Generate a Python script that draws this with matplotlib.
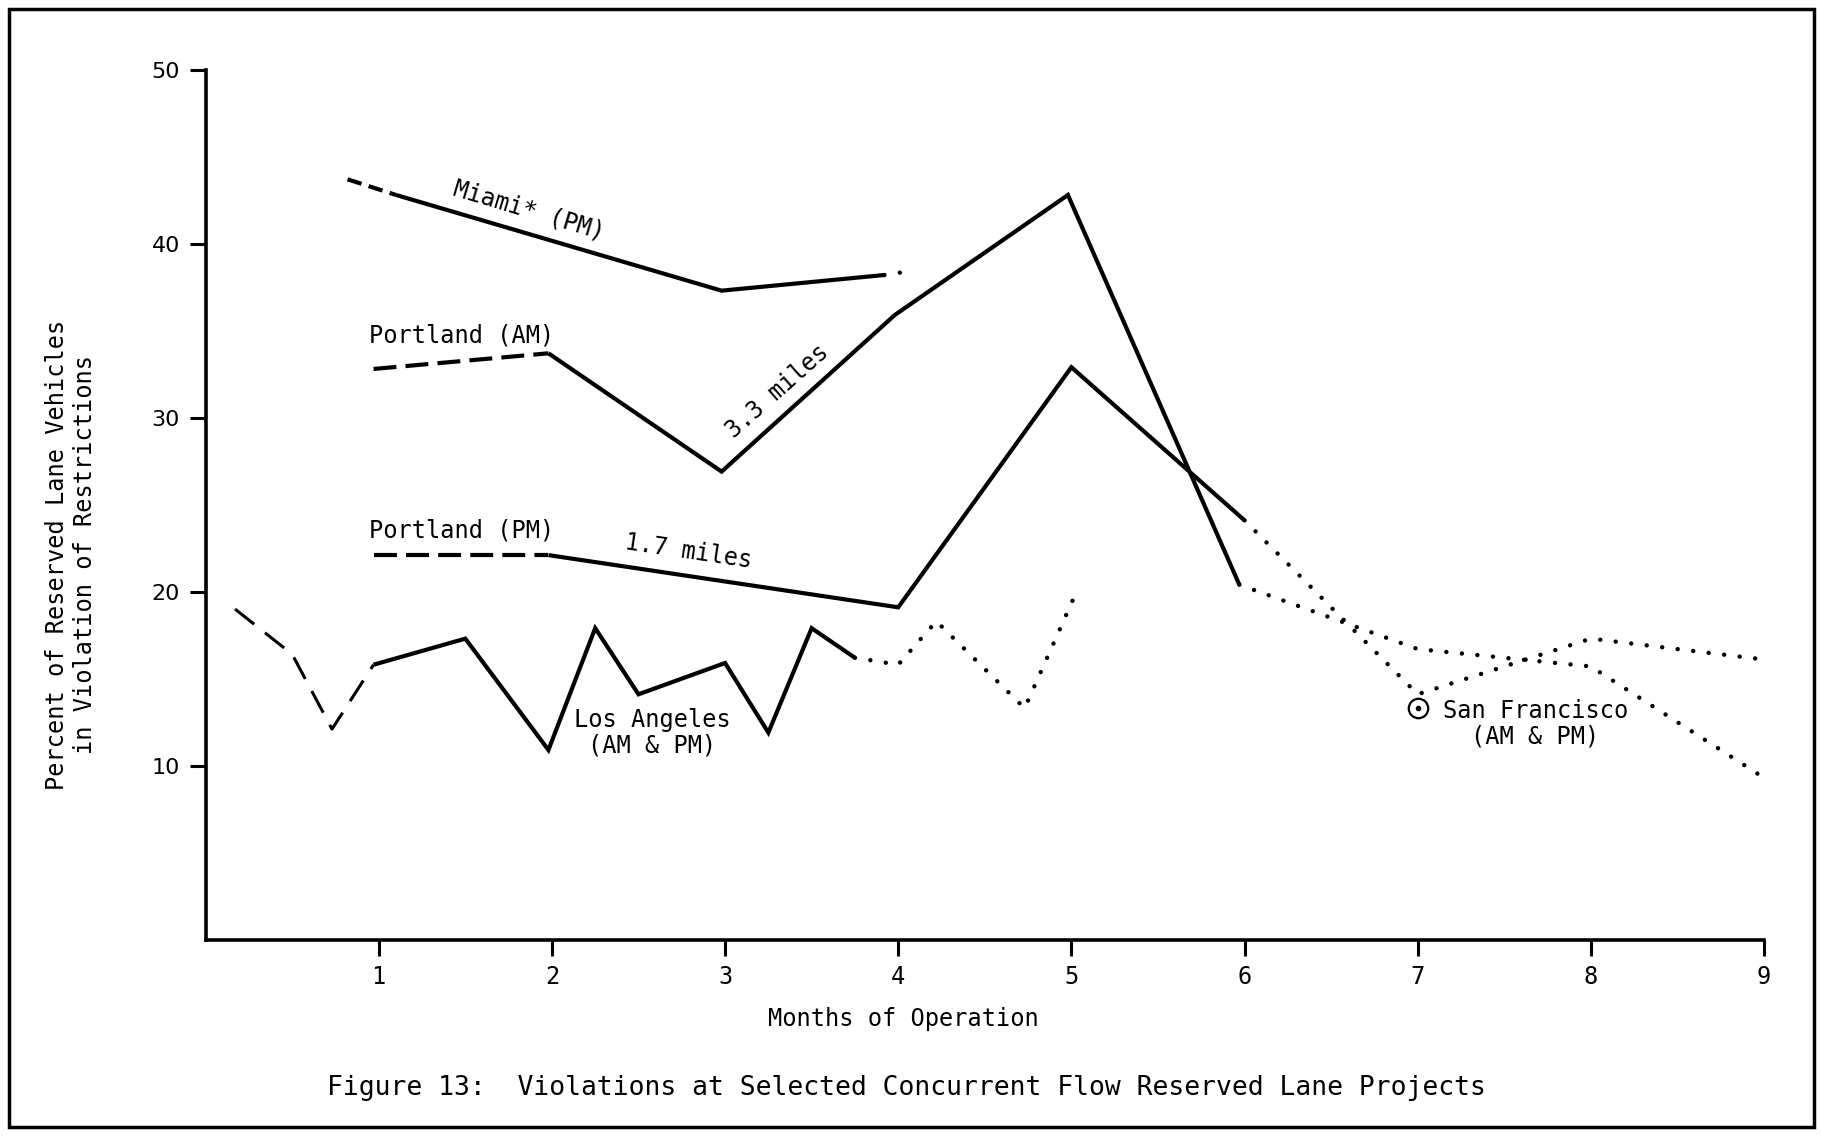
import matplotlib
matplotlib.use("Agg")
import matplotlib.pyplot as plt
from matplotlib.patches import Rectangle

# ---------------- data ----------------
months = [1, 2, 3, 4, 5, 6, 7, 8, 9]
month_labels = ["1", "2", "3", "4", "5", "6", "7", "8", "9"]
y_ticks = [10, 20, 30, 40, 50]

# Miami* (PM): dashed start, solid, dotted tail
miami_x = [0.82, 1.10, 2.98, 3.92, 4.05]
miami_y = [43.7, 42.8, 37.3, 38.2, 38.4]

# Portland (AM), 3.3 miles
pam_x = [0.97, 1.98, 2.98, 3.98, 4.98, 5.97]
pam_y = [32.8, 33.7, 26.9, 35.9, 42.8, 20.4]
pam_tail_x = [5.97, 7.0, 8.0, 9.0]
pam_tail_y = [20.4, 16.7, 15.7, 9.3]

# Portland (PM), 1.7 miles
ppm_x = [0.97, 1.98, 4.00, 5.00, 6.00]
ppm_y = [22.1, 22.1, 19.1, 32.9, 24.1]
ppm_tail_x = [6.0, 7.0, 8.0, 9.0]
ppm_tail_y = [24.1, 14.1, 17.3, 16.1]

# Los Angeles (AM & PM)
la_x = [0.17, 0.50, 0.73, 0.97, 1.50, 1.98, 2.25, 2.50, 3.00, 3.25, 3.50, 3.75, 4.00, 4.22, 4.73, 5.03]
la_y = [19.0, 16.4, 12.1, 15.8, 17.3, 10.9, 17.9, 14.1, 15.9, 11.9, 17.9, 16.2, 15.8, 18.3, 13.3, 20.0]

# San Francisco marker
sf_x = [7.0]
sf_y = [13.3]

MONO = ["DejaVu Sans Mono"]
TXT = dict(family=MONO, fontsize=17, color="black")

fig = plt.figure(figsize=(18.21, 11.41), dpi=100)
ax = fig.add_axes([0.1129, 0.1765, 0.9687 - 0.1129, 0.9389 - 0.1765])

ax.set_xlim(0, 9)
ax.set_ylim(0, 50)
for s in ["top", "right"]:
    ax.spines[s].set_visible(False)
for s in ["left", "bottom"]:
    ax.spines[s].set_linewidth(2.6)

ax.set_xticks(months)
ax.set_xticklabels(month_labels, family=MONO, fontsize=17)
ax.set_yticks(y_ticks)
ax.set_yticklabels([str(v) for v in y_ticks], family=["DejaVu Sans"], fontsize=16)
ax.tick_params(axis="both", direction="out", length=11.5, width=2.2, color="black")
ax.tick_params(axis="x", pad=7)
ax.tick_params(axis="y", pad=7)

DOT = dict(color="black", lw=3.2, ls=(0, (0.01, 3.5)), dash_capstyle="round")
DASH = dict(color="black", lw=3.0, ls=(0, (5.5, 2.2)), dash_capstyle="butt")
SOLID = dict(color="black", lw=3.0, solid_joinstyle="miter", solid_capstyle="butt")


def seg(xs, ys, i0, i1, style):
    ax.plot(xs[i0:i1 + 1], ys[i0:i1 + 1], **style)


# Miami
seg(miami_x, miami_y, 0, 1, dict(color="black", lw=3.0, ls=(0, (3.5, 1.8))))
seg(miami_x, miami_y, 1, 3, SOLID)
seg(miami_x, miami_y, 3, 4, DOT)

# Portland AM
seg(pam_x, pam_y, 0, 1, DASH)
seg(pam_x, pam_y, 1, 5, SOLID)
ax.plot(pam_tail_x, pam_tail_y, **DOT)

# Portland PM
seg(ppm_x, ppm_y, 0, 1, DASH)
seg(ppm_x, ppm_y, 1, 4, SOLID)
ax.plot(ppm_tail_x, ppm_tail_y, **DOT)

# Los Angeles
seg(la_x, la_y, 0, 3, dict(color="black", lw=2.2, ls=(0, (8, 4.5))))
seg(la_x, la_y, 3, 11, SOLID)
seg(la_x, la_y, 11, 15, DOT)

# San Francisco circle marker
ax.plot(sf_x, sf_y, marker="o", ms=14, mfc="white", mec="black", mew=1.6, ls="none", zorder=5)
ax.plot(sf_x, sf_y, marker="o", ms=3, color="black", ls="none", zorder=6)

# annotations
ax.text(1.87, 41.9, "Miami* (PM)", rotation=-16.6, ha="center", va="center",
        rotation_mode="anchor", **TXT)
ax.text(1.48, 34.7, "Portland (AM)", ha="center", va="center", **TXT)
ax.text(3.30, 31.5, "3.3 miles", rotation=41.4, ha="center", va="center",
        rotation_mode="anchor", **TXT)
ax.text(1.48, 23.5, "Portland (PM)", ha="center", va="center", **TXT)
ax.text(2.79, 22.3, "1.7 miles", rotation=-8.5, ha="center", va="center",
        rotation_mode="anchor", **TXT)
ax.text(2.58, 11.9, "Los Angeles\n(AM & PM)", ha="center", va="center",
        linespacing=1.1, **TXT)
ax.text(7.68, 12.4, "San Francisco\n(AM & PM)", ha="center", va="center",
        linespacing=1.1, **TXT)

# axis titles and caption
fig.text(0.039, 0.5136, "Percent of Reserved Lane Vehicles\nin Violation of Restrictions",
         rotation=90, ha="center", va="center", linespacing=1.2, **TXT)
fig.text(0.4962, 0.1073, "Months of Operation", ha="center", va="center", **TXT)
fig.text(0.4975, 0.0464, "Figure 13:  Violations at Selected Concurrent Flow Reserved Lane Projects",
         ha="center", va="center", family=MONO, fontsize=19)

# outer frame
fig.patches.append(Rectangle((9 / 1821, 1 - 1127 / 1141), (1814 - 9) / 1821, (1127 - 9) / 1141,
                             transform=fig.transFigure, fill=False, lw=2.5, edgecolor="black"))

fig.savefig("out.png", dpi=100, facecolor="white")
